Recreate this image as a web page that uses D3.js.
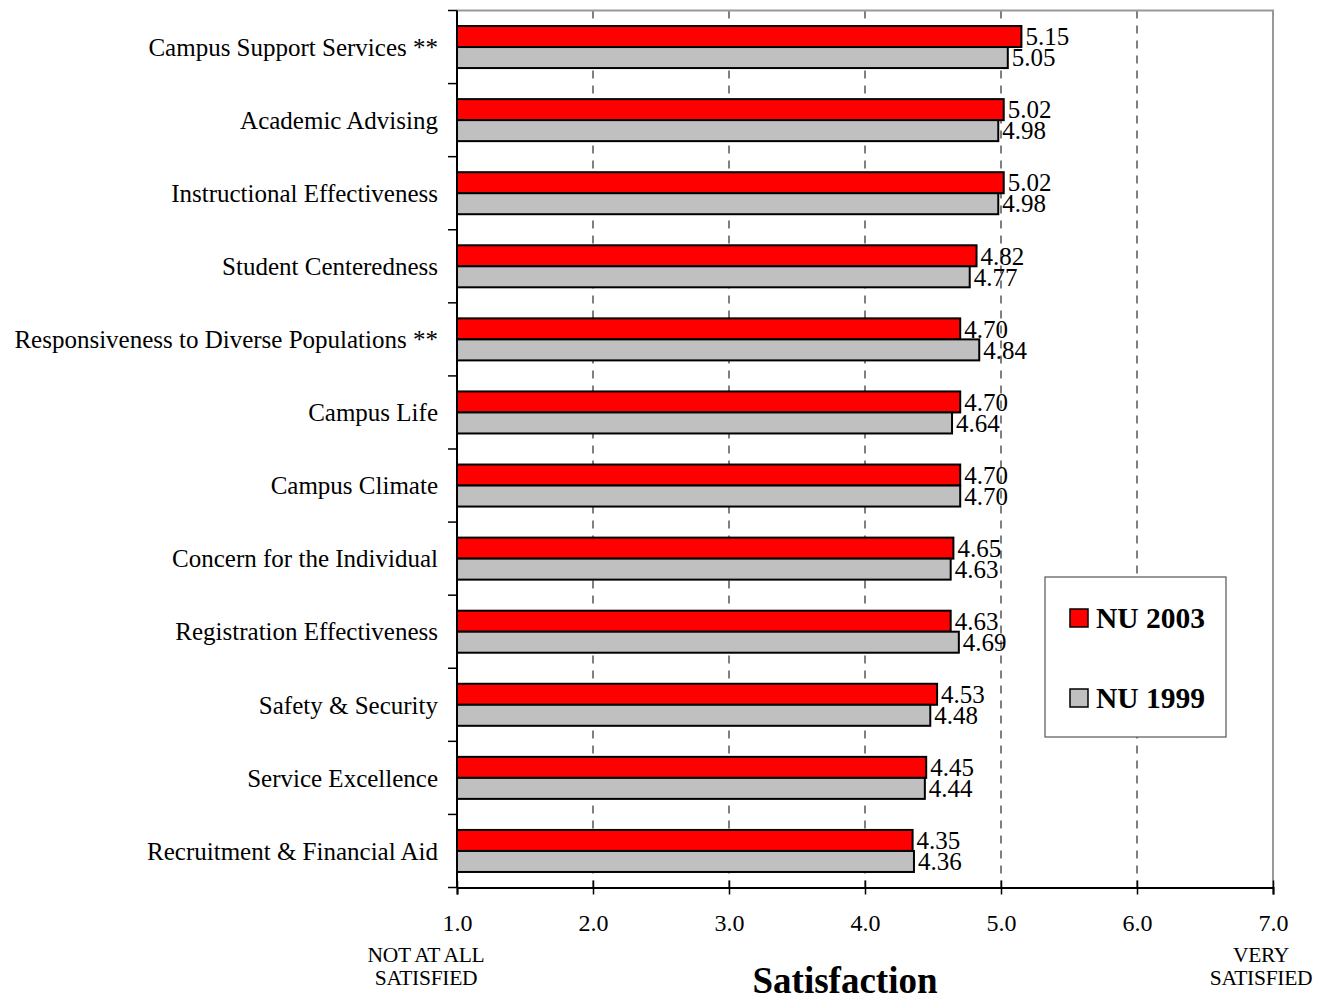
<!DOCTYPE html>
<html><head><meta charset="utf-8">
<script src="https://cdn.jsdelivr.net/npm/d3@7"></script>
<style>body{margin:0;background:#fff}svg{display:block}text{font-family:"Liberation Serif","Times New Roman",serif}</style>
</head><body><svg id="c" width="1323" height="997"></svg>
<script>
const categories = ["Campus Support Services **","Academic Advising","Instructional Effectiveness","Student Centeredness","Responsiveness to Diverse Populations **","Campus Life","Campus Climate","Concern for the Individual","Registration Effectiveness","Safety & Security","Service Excellence","Recruitment & Financial Aid"];
const nu2003 = [5.15,5.02,5.02,4.82,4.70,4.70,4.70,4.65,4.63,4.53,4.45,4.35];
const nu1999 = [5.05,4.98,4.98,4.77,4.84,4.64,4.70,4.63,4.69,4.48,4.44,4.36];
const seriesNames = ["NU 2003","NU 1999"];
const seriesColors = ["#ff0000","#c0c0c0"];
const xTicks = [1,2,3,4,5,6,7];

const svg = d3.select("#c");
const L=457,R=1273,T=10.5,B=887.5;
const x = d3.scaleLinear().domain([1,7]).range([L,R]);
const y = d3.scaleBand().domain(categories).range([T,B]).paddingInner(0.425).paddingOuter(0.2125);
const bh = y.bandwidth()/2;

// gridlines
svg.append("g").selectAll("line").data([2,3,4,5,6]).join("line")
  .attr("x1",d=>x(d)).attr("x2",d=>x(d)).attr("y1",T).attr("y2",B)
  .attr("stroke","#000").attr("stroke-width",1).attr("stroke-dasharray","8,7");
// border top/right gray
svg.append("path").attr("d",`M${L},${T}H${R}V${B}`).attr("fill","none").attr("stroke","#999").attr("stroke-width",2);

const rows = categories.map((c,i)=>({c,a:nu2003[i],b:nu1999[i]}));
const g = svg.append("g");
rows.forEach(r=>{
  const y0 = y(r.c);
  [[r.a,0],[r.b,1]].forEach(([v,k])=>{
    g.append("rect").attr("x",x(1)).attr("y",y0+k*bh).attr("width",x(v)-x(1)).attr("height",bh)
      .attr("fill",seriesColors[k]).attr("stroke","#000").attr("stroke-width",2);
  });
});
rows.forEach(r=>{
  const y0 = y(r.c);
  [[r.a,0],[r.b,1]].forEach(([v,k])=>{
    g.append("text").attr("x",x(v)+4).attr("y",y0+k*bh+bh/2).attr("dy","0.35em")
      .attr("font-size",25).text(v.toFixed(2));
  });
});

// category labels
svg.append("g").selectAll("text").data(categories).join("text")
  .attr("x",438).attr("y",d=>y(d)+y.bandwidth()/2).attr("dy","0.35em")
  .attr("text-anchor","end").attr("font-size",25).text(d=>d);

// left axis with ticks between categories
const step = (B-T)/categories.length;
const lg = svg.append("g");
lg.append("line").attr("x1",L).attr("x2",L).attr("y1",T).attr("y2",B).attr("stroke","#000").attr("stroke-width",2);
lg.selectAll("line.t").data(d3.range(categories.length+1)).join("line").attr("class","t")
  .attr("x1",L-9).attr("x2",L).attr("y1",i=>T+i*step).attr("y2",i=>T+i*step).attr("stroke","#000").attr("stroke-width",1.5);

// bottom axis
const xa = d3.axisBottom(x).tickValues(xTicks).tickFormat(d3.format(".1f")).tickSize(7);
const bg = svg.append("g").attr("transform",`translate(0,${B})`).call(xa);
bg.select(".domain").attr("stroke","#000").attr("stroke-width",2);
bg.selectAll(".tick line").attr("stroke","#000").attr("stroke-width",1.5).attr("y1",-7);
bg.selectAll(".tick text").attr("font-size",24).attr("fill","#000").attr("y",43).attr("dy",0);

// extremes labels
[["NOT AT ALL",426,962],["SATISFIED",426,985],["VERY",1261,962],["SATISFIED",1261,985]].forEach(([t,xx,yy])=>{
  svg.append("text").attr("x",xx).attr("y",yy).attr("text-anchor","middle").attr("font-size",21.5).attr("letter-spacing","-0.3").text(t);
});
svg.append("text").attr("x",845).attr("y",993).attr("text-anchor","middle").attr("font-size",37).attr("font-weight","bold").text("Satisfaction");

// legend
const lgd = svg.append("g");
lgd.append("rect").attr("x",1045).attr("y",577).attr("width",181).attr("height",160).attr("fill","#fff").attr("stroke","#555").attr("stroke-width",1.2);
seriesNames.forEach((n,i)=>{
  const yy = 618 + i*80;
  lgd.append("rect").attr("x",1070).attr("y",yy-9).attr("width",18).attr("height",18).attr("fill",seriesColors[i]).attr("stroke","#000").attr("stroke-width",1.5);
  lgd.append("text").attr("x",1096).attr("y",yy).attr("dy","0.35em").attr("font-size",29.5).attr("font-weight","bold").text(n);
});
</script></body></html>
